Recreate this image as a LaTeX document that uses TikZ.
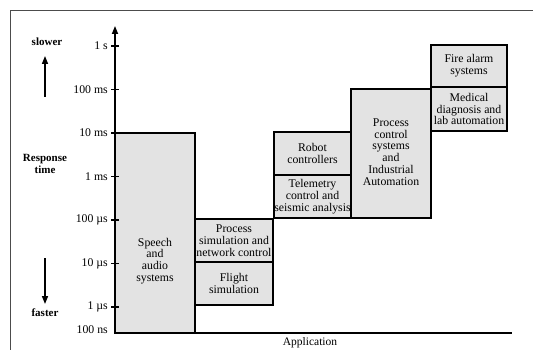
\documentclass[tikz,border=0pt]{standalone}
\usepackage{fontspec}
\setmainfont{Liberation Serif}
\usetikzlibrary{arrows.meta}
\begin{document}
\begin{tikzpicture}[x=1pt,y=-1pt,
  appbox/.style={draw=black,line width=1.6pt,fill=gray!22},
  boxtext/.style={font=\fontsize{11.8}{11.8}\selectfont,align=center,inner sep=0pt},
  ticklab/.style={font=\fontsize{11.8}{12}\selectfont,anchor=east,inner sep=0pt},
  sidelab/.style={font=\fontsize{11}{12}\selectfont\bfseries,align=center,inner sep=0pt},
  axisline/.style={line width=1.6pt},
  tickmark/.style={line width=1.3pt}]
\useasboundingbox (0,0) rectangle (533,350);
% frame
\draw[gray!60!black,line width=0.8pt] (10,350) -- (10,10) -- (533,10);
% boxes
\draw[appbox] (115,133) rectangle (195,333);
\node[boxtext] (speech) at (155,261) {Speech\\and\\audio\\systems};
\draw[appbox] (195,219) rectangle (273,262);
\node[boxtext] (procsim) at (234,240.5) {Process\\simulation and\\network control};
\draw[appbox] (195,262) rectangle (273,305);
\node[boxtext] (flight) at (234,283.5) {Flight\\simulation};
\draw[appbox] (274,132) rectangle (351,175);
\node[boxtext] (robot) at (312.5,153.5) {Robot\\controllers};
\draw[appbox] (274,175) rectangle (351,218);
\node[boxtext] (telem) at (312.5,196.5) {Telemetry\\control and\\seismic analysis};
\draw[appbox] (351,89) rectangle (431,218);
\node[boxtext] (proccon) at (391,152) {Process\\control\\systems\\and\\Industrial\\Automation};
\draw[appbox] (431,45) rectangle (507,87);
\node[boxtext] (fire) at (469,66) {Fire alarm\\systems};
\draw[appbox] (431,87) rectangle (507,131);
\node[boxtext] (medical) at (469,109) {Medical\\diagnosis and\\lab automation};
% axes
\coordinate (origin) at (115,333);
\coordinate (ytop) at (115,26);
\coordinate (xend) at (512,333);
\draw[axisline,-{Triangle[length=8pt,width=6pt]}] (origin) -- (ytop);
\draw[axisline] (origin) -- (xend);
\node[font=\fontsize{11.5}{12}\selectfont,inner sep=0pt] (app) at (310,343) {Application};
% ticks
\foreach \y/\t in {46/1 s,89.5/100 ms,133/10 ms,176.5/1 ms,220/100 µs,263.5/10 µs,307/1 µs}{
  \draw[tickmark] (111,\y) -- (119,\y);
  \node[ticklab] at (108,\y) {\t};
}
\node[ticklab] (hns) at (108,330) {100 ns};
% side labels
\node[sidelab] (slower) at (47,42) {slower};
\node[sidelab] (resp) at (45,164) {Response\\time};
\node[sidelab] (faster) at (45,313) {faster};
\coordinate (ua) at (45,97);
\coordinate (ub) at (45,56);
\coordinate (da) at (45,258);
\coordinate (db) at (45,304);
\draw[line width=1.5pt,-{Triangle[length=8pt,width=6pt]}] (ua) -- (ub);
\draw[line width=1.5pt,-{Triangle[length=8pt,width=6pt]}] (da) -- (db);
\end{tikzpicture}
\end{document}
